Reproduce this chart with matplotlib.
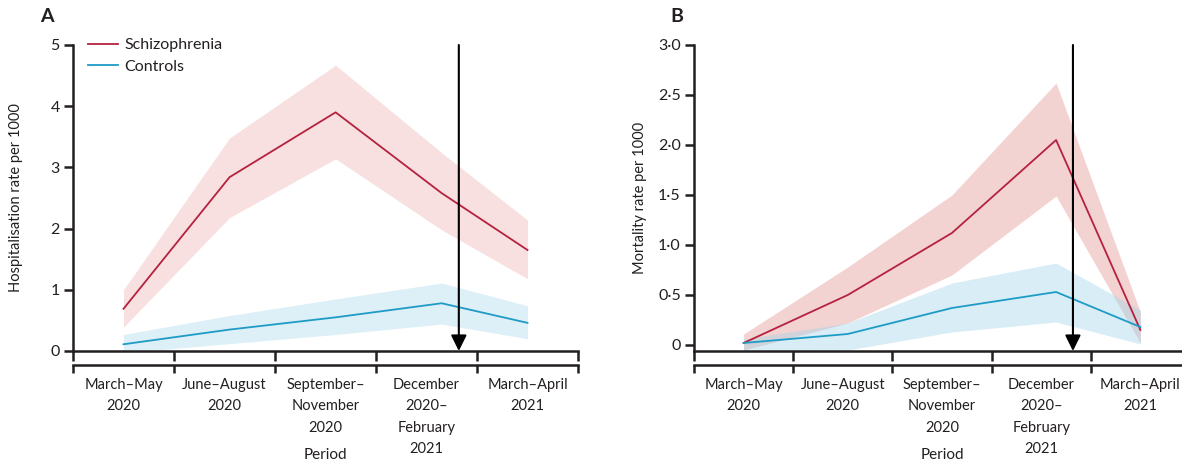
import numpy as np
import matplotlib
matplotlib.use('Agg')
import matplotlib.pyplot as plt
from matplotlib import transforms

plt.rcParams['font.family'] = ['Lato', 'DejaVu Sans']

# category layout (x in period units, 0..5)
periods = ['March–May\n2020', 'June–August\n2020', 'September–\nNovember\n2020',
           'December\n2020–\nFebruary\n2021', 'March–April\n2021']
x_pos = [0.5, 1.55, 2.6, 3.65, 4.5]
arrow_x = 3.82

# A: hospitalisation rate per 1000
schiz_hosp = [0.69, 2.84, 3.90, 2.58, 1.65]
schiz_hosp_lo = [0.39, 2.18, 3.14, 1.98, 1.18]
schiz_hosp_hi = [1.00, 3.48, 4.67, 3.24, 2.14]
ctrl_hosp = [0.11, 0.35, 0.55, 0.78, 0.46]
ctrl_hosp_lo = [-0.03, 0.12, 0.27, 0.44, 0.20]
ctrl_hosp_hi = [0.27, 0.58, 0.85, 1.11, 0.74]

# B: mortality rate per 1000
schiz_mort = [0.02, 0.50, 1.12, 2.05, 0.15]
schiz_mort_lo = [-0.05, 0.22, 0.70, 1.49, 0.02]
schiz_mort_hi = [0.11, 0.78, 1.50, 2.62, 0.33]
ctrl_mort = [0.02, 0.11, 0.37, 0.53, 0.18]
ctrl_mort_lo = [-0.06, -0.05, 0.13, 0.23, 0.01]
ctrl_mort_hi = [0.06, 0.22, 0.62, 0.82, 0.35]

red = '#B5213F'
blue = '#1E9BC6'
ink = '#231F20'
W, H = 1182, 463

fig = plt.figure(figsize=(W / 100, H / 100), dpi=100)

axA = fig.add_axes([73 / W, 1 - 351 / H, 505 / W, 306 / H])
axB = fig.add_axes([694 / W, 1 - 351 / H, 496 / W, 306 / H])


def style_axis(ax, ylim, yticks, ylabels, ylabel, label_x):
    ax.set_xlim(0, 5)
    ax.set_ylim(*ylim)
    for s in ['top', 'right']:
        ax.spines[s].set_visible(False)
    for s in ['left', 'bottom']:
        ax.spines[s].set_linewidth(1.8)
        ax.spines[s].set_color(ink)
    ax.set_yticks(yticks)
    ax.set_yticklabels(ylabels)
    ax.set_xticks(range(6))
    ax.set_xticklabels([])
    ax.tick_params(axis='y', length=6.5, width=1.8, color=ink, labelsize=11.5,
                   labelcolor=ink, pad=3)
    ax.tick_params(axis='x', length=7, width=1.8, color=ink)
    ax.set_ylabel(ylabel, fontsize=10.5, color=ink)
    ax.yaxis.set_label_coords(label_x, 0.5)

    # second bracket row under the axis
    sec = ax.secondary_xaxis(-0.046)
    sec.set_xticks(range(6))
    sec.set_xticklabels([])
    sec.spines['bottom'].set_linewidth(1.8)
    sec.spines['bottom'].set_color(ink)
    sec.tick_params(axis='x', length=6, width=1.8, color=ink)

    trans = transforms.blended_transform_factory(ax.transData, ax.transAxes)
    for i, lab in enumerate(periods):
        ax.text(i + 0.5, -0.087, lab, transform=trans, ha='center', va='top',
                fontsize=10.5, color=ink, linespacing=1.68)
    ax.text(2.5, -0.34, 'Period', transform=trans, ha='center', va='center',
            fontsize=11, color=ink)

    ax.annotate('', xy=(arrow_x, ylim[0]), xytext=(arrow_x, ylim[1]),
                arrowprops=dict(arrowstyle='-|>,head_length=0.95,head_width=0.47',
                                mutation_scale=10, lw=1.5, color='black',
                                shrinkA=0, shrinkB=0), zorder=5)


# panel A
axA.fill_between(x_pos, schiz_hosp_lo, schiz_hosp_hi, color='#E9A8A4', alpha=0.35, lw=0)
axA.fill_between(x_pos, ctrl_hosp_lo, ctrl_hosp_hi, color='#9FD3EA', alpha=0.35, lw=0)
axA.plot(x_pos, schiz_hosp, color=red, lw=1.3, label='Schizophrenia')
axA.plot(x_pos, ctrl_hosp, color=blue, lw=1.3, label='Controls')
style_axis(axA, (0, 5), [0, 1, 2, 3, 4, 5], ['0', '1', '2', '3', '4', '5'],
           'Hospitalisation rate per 1000', -0.099)
axA.legend(loc='upper left', bbox_to_anchor=(0.03, 1.022), frameon=False, fontsize=11.5,
           handlelength=1.85, handletextpad=0.4, labelspacing=0.45, borderpad=0,
           borderaxespad=0, labelcolor=ink)

# panel B
axB.fill_between(x_pos, schiz_mort_lo, schiz_mort_hi, color='#E9A8A4', alpha=0.5, lw=0)
axB.fill_between(x_pos, ctrl_mort_lo, ctrl_mort_hi, color='#9FD3EA', alpha=0.4, lw=0)
axB.plot(x_pos, schiz_mort, color=red, lw=1.3)
axB.plot(x_pos, ctrl_mort, color=blue, lw=1.3)
style_axis(axB, (-0.06, 3.0), [0, 0.5, 1.0, 1.5, 2.0, 2.5, 3.0],
           ['0', '0·5', '1·0', '1·5', '2·0', '2·5', '3·0'], 'Mortality rate per 1000',
           -0.095)

fig.text(47 / W, 1 - 17 / H, 'A', fontsize=14, fontweight='bold', color=ink,
         ha='center', va='center')
fig.text(677 / W, 1 - 17 / H, 'B', fontsize=14, fontweight='bold', color=ink,
         ha='center', va='center')

fig.savefig('out.png', dpi=100)
